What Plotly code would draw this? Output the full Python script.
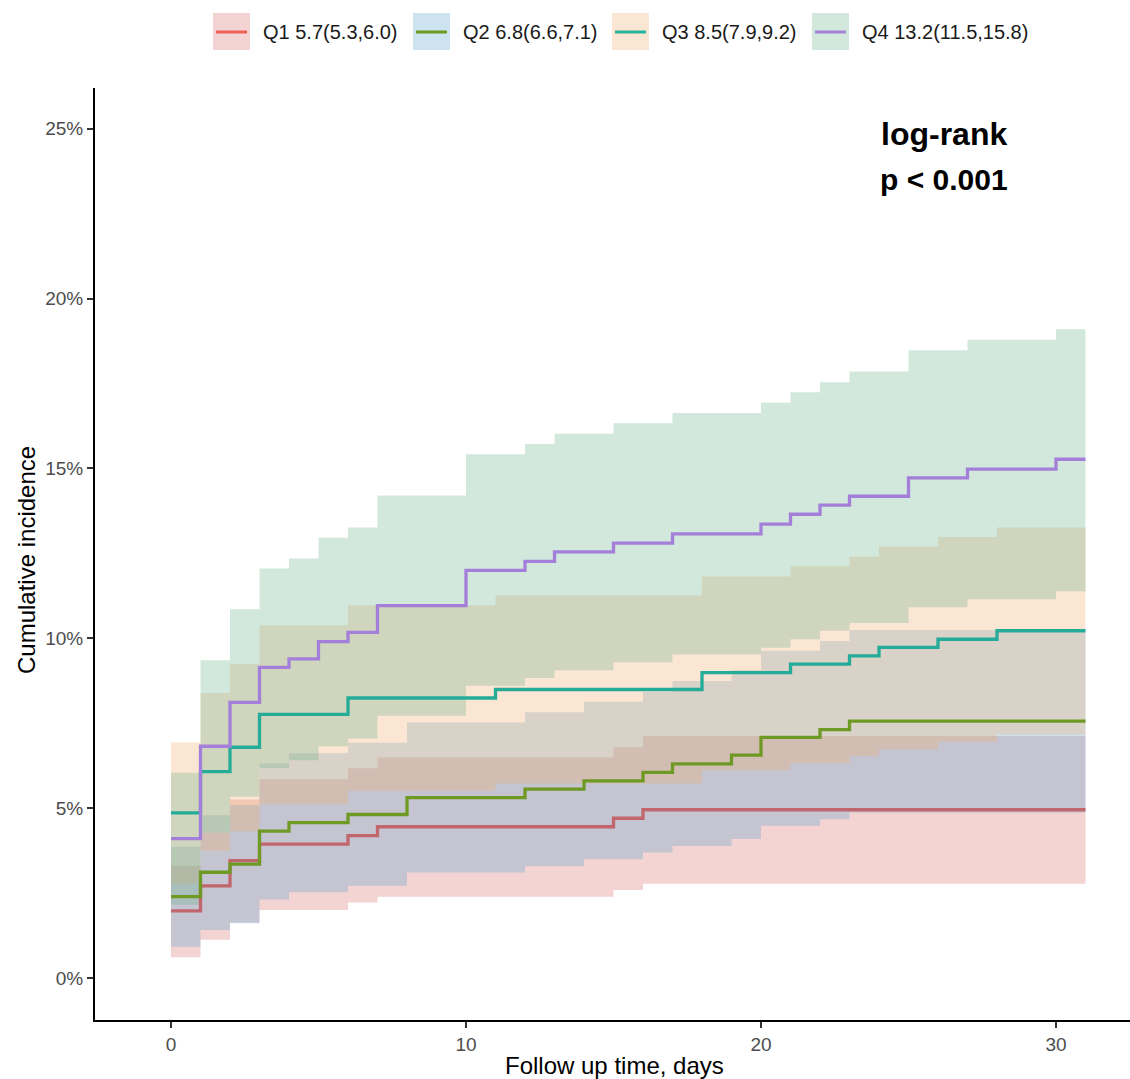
import plotly.graph_objects as go

END_DAY = 31

# ---- data (cumulative incidence, %), step values starting at each time ----
q1_time = [0, 1, 2, 3, 6, 7, 15, 16]
q1_est  = [1.97, 2.71, 3.45, 3.94, 4.19, 4.45, 4.70, 4.95]
q1_low  = [0.61, 1.12, 1.63, 2.00, 2.22, 2.39, 2.59, 2.77]
q1_high = [3.30, 4.27, 5.25, 5.85, 6.17, 6.49, 6.79, 7.12]

q2_time = [0, 1, 2, 3, 4, 6, 8, 12, 14, 16, 17, 19, 20, 22, 23]
q2_est  = [2.39, 3.11, 3.35, 4.32, 4.57, 4.81, 5.31, 5.56, 5.80, 6.05, 6.30, 6.56, 7.08, 7.31, 7.56]
q2_low  = [0.92, 1.41, 1.61, 2.31, 2.52, 2.71, 3.10, 3.29, 3.49, 3.69, 3.88, 4.09, 4.48, 4.67, 4.87]
q2_high = [3.86, 4.79, 5.09, 6.31, 6.61, 6.92, 7.52, 7.82, 8.13, 8.42, 8.74, 9.06, 9.63, 9.92, 10.24]

q3_time = [0, 1, 2, 3, 6, 11, 18, 21, 23, 24, 26, 28]
q3_est  = [4.86, 6.07, 6.79, 7.76, 8.24, 8.49, 8.99, 9.24, 9.48, 9.73, 9.97, 10.22]
q3_low  = [2.78, 3.74, 4.32, 5.11, 5.51, 5.72, 6.12, 6.33, 6.53, 6.73, 6.95, 7.16]
q3_high = [6.93, 8.39, 9.24, 10.38, 10.97, 11.26, 11.82, 12.12, 12.40, 12.70, 12.98, 13.26]

q4_time = [0, 1, 2, 3, 4, 5, 6, 7, 10, 12, 13, 15, 17, 20, 21, 22, 23, 25, 27, 30]
q4_est  = [4.10, 6.82, 8.11, 9.14, 9.39, 9.90, 10.17, 10.96, 12.00, 12.26, 12.54, 12.80, 13.07,
           13.36, 13.65, 13.92, 14.18, 14.72, 14.98, 15.27]
q4_low  = [2.15, 4.27, 5.33, 6.18, 6.41, 6.82, 7.05, 7.72, 8.60, 8.83, 9.06, 9.29, 9.52,
           9.72, 9.97, 10.22, 10.45, 10.91, 11.15, 11.38]
q4_high = [6.04, 9.35, 10.85, 12.05, 12.35, 12.96, 13.26, 14.20, 15.42, 15.72, 16.02, 16.33, 16.63,
           16.93, 17.24, 17.54, 17.85, 18.48, 18.79, 19.10]

group_labels = ["Q1 5.7(5.3,6.0)", "Q2 6.8(6.6,7.1)", "Q3 8.5(7.9,9.2)", "Q4 13.2(11.5,15.8)"]
y_ticks = [0, 5, 10, 15, 20, 25]
y_tick_labels = ["0%", "5%", "10%", "15%", "20%", "25%"]
x_ticks = [0, 10, 20, 30]

series = [
    (q1_time, q1_est, q1_low, q1_high),
    (q2_time, q2_est, q2_low, q2_high),
    (q3_time, q3_est, q3_low, q3_high),
    (q4_time, q4_est, q4_low, q4_high),
]

# ---- styles ----
plot_line_colors = ["#C0666C", "#6E9A24", "#25AC98", "#A47FDA"]
legend_line_colors = ["#EE6056", "#6A9A22", "#28B59D", "#A67FD9"]
fill_colors = ["rgba(215,112,105,0.3)", "rgba(88,162,205,0.3)",
               "rgba(242,172,108,0.3)", "rgba(105,178,138,0.3)"]
FONT = "Liberation Sans, Arial, sans-serif"


def step_path(t, v):
    xs, ys = [], []
    for i in range(len(t)):
        xn = t[i + 1] if i + 1 < len(t) else END_DAY
        xs += [t[i], xn]
        ys += [v[i], v[i]]
    return xs, ys


fig = go.Figure()

# ribbons
for (t, est, lo, hi), fc in zip(series, fill_colors):
    ux, uy = step_path(t, hi)
    lx, ly = step_path(t, lo)
    fig.add_trace(go.Scatter(
        x=ux + lx[::-1], y=uy + ly[::-1], mode="lines", fill="toself",
        fillcolor=fc, line=dict(width=0), hoverinfo="skip", showlegend=False))

# step lines
for (t, est, lo, hi), lc, name in zip(series, plot_line_colors, group_labels):
    fig.add_trace(go.Scatter(
        x=list(t) + [END_DAY], y=list(est) + [est[-1]], mode="lines",
        line=dict(color=lc, width=3.3, shape="hv"), name=name, showlegend=False))

# ---- layout geometry (page pixels; body margin removed in post script) ----
W, H = 1130, 1079
PLOT_L, PLOT_T, PLOT_B = 95, 88, 1020
ML, MT, MB, MR = PLOT_L, PLOT_T, H - PLOT_B, 0
PW, PH = W - ML - MR, H - MT - MB


def px_x(p):
    return (p - PLOT_L) / PW


def px_y(p):
    return (PLOT_B - p) / PH


# x range from pixel mapping: day 0 at 171 px, 29.5 px per day
X0_PX, X_SCALE = 171, 29.5
x_range = [(PLOT_L - X0_PX) / X_SCALE, (PLOT_L + PW - X0_PX) / X_SCALE]

shapes = []
annotations = []
# custom legend
key_left = [213, 413, 612, 812]
for i, (kl, label) in enumerate(zip(key_left, group_labels)):
    shapes.append(dict(type="rect", xref="paper", yref="paper",
                       x0=px_x(kl), x1=px_x(kl + 37), y0=px_y(50), y1=px_y(13),
                       fillcolor=fill_colors[i], line=dict(width=0)))
    shapes.append(dict(type="line", xref="paper", yref="paper",
                       x0=px_x(kl + 3), x1=px_x(kl + 34), y0=px_y(32), y1=px_y(32),
                       line=dict(color=legend_line_colors[i], width=3)))
    annotations.append(dict(xref="paper", yref="paper", x=px_x(kl + 48), y=px_y(32),
                            text=label, showarrow=False, xanchor="left", yanchor="middle",
                            font=dict(family=FONT, size=20, color="#1a1a1a")))

# axis titles
annotations.append(dict(xref="paper", yref="paper", x=px_x(614), y=px_y(1065),
                        text="Follow up time, days", showarrow=False,
                        xanchor="center", yanchor="middle",
                        font=dict(family=FONT, size=24, color="#000000")))
annotations.append(dict(xref="paper", yref="paper", x=px_x(26), y=px_y(560),
                        text="Cumulative incidence", showarrow=False, textangle=-90,
                        xanchor="center", yanchor="middle",
                        font=dict(family=FONT, size=24, color="#000000")))
# log-rank text
annotations.append(dict(x=26.2, y=24.85, text="<b>log-rank</b>", showarrow=False,
                        xanchor="center", yanchor="middle",
                        font=dict(family=FONT, size=32, color="#000000")))
annotations.append(dict(x=26.2, y=23.5, text="<b>p < 0.001</b>", showarrow=False,
                        xanchor="center", yanchor="middle",
                        font=dict(family=FONT, size=30, color="#000000")))

fig.update_layout(
    width=W, height=H,
    margin=dict(l=ML, r=MR, t=MT, b=MB, autoexpand=False),
    paper_bgcolor="white", plot_bgcolor="white",
    shapes=shapes, annotations=annotations, showlegend=False,
    xaxis=dict(range=x_range, tickvals=x_ticks, ticktext=[str(v) for v in x_ticks],
               showline=True, linecolor="black", linewidth=2, ticks="outside",
               ticklen=6, tickwidth=1.5, tickcolor="#333333", showgrid=False, zeroline=False,
               tickfont=dict(family=FONT, size=19, color="#4D4D4D")),
    yaxis=dict(range=[-1.24, 26.2], tickvals=y_ticks, ticktext=y_tick_labels,
               showline=True, linecolor="black", linewidth=2, ticks="outside",
               ticklen=6, tickwidth=1.5, tickcolor="#333333", showgrid=False, zeroline=False,
               tickfont=dict(family=FONT, size=19, color="#4D4D4D")),
)

fig.write_html(
    "out.html",
    config={"displayModeBar": False},
    post_script="document.body.style.margin='0px';document.body.style.overflow='hidden';",
)
